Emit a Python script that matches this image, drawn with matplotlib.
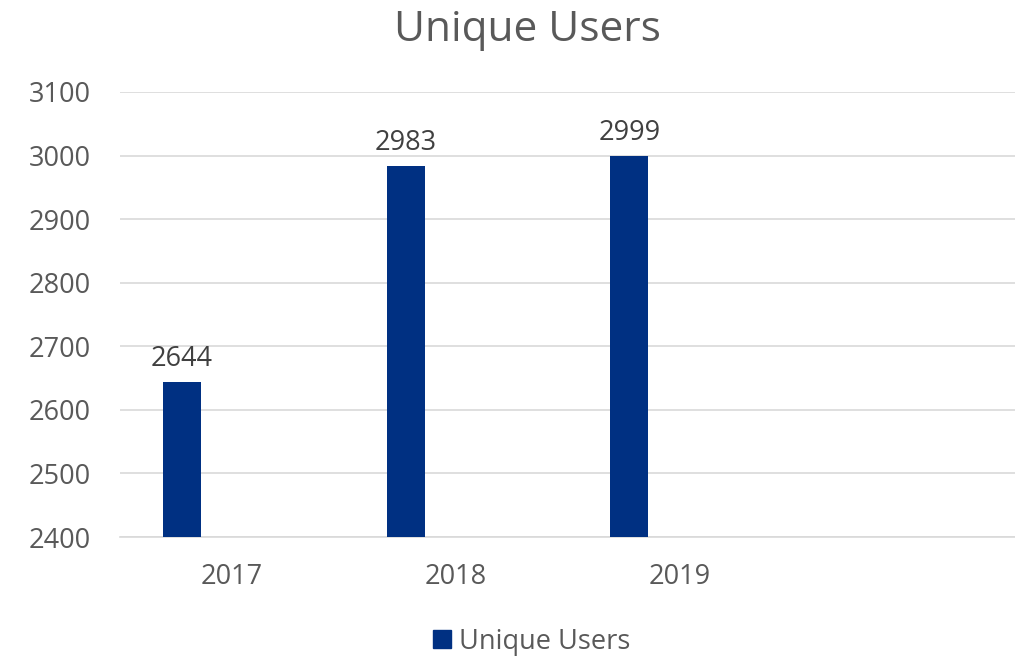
import matplotlib.pyplot as plt
import numpy as np

# data
years = ['2017', '2018', '2019', '']
users = [2644, 2983, 2999, None]
yticks = [2400, 2500, 2600, 2700, 2800, 2900, 3000, 3100]

plt.rcParams['font.family'] = ['Open Sans', 'DejaVu Sans']
grey = '#595959'
bar_color = '#003082'

fig = plt.figure(figsize=(10.15, 6.56), dpi=100)
ax = fig.add_axes([0.1182, 0.1814, 0.8818, 0.6784])

x = np.arange(len(years))
idx = [i for i, v in enumerate(users) if v is not None]
vals = [users[i] for i in idx]
bars = ax.bar(x[idx] - 0.223, vals, width=0.17, color=bar_color, zorder=3)
for b, v in zip(bars, vals):
    ax.text(b.get_x() + b.get_width() / 2, v + 14, str(v), ha='center', va='bottom',
            fontsize=19.5, color='#404040')

ax.set_xlim(-0.5, len(years) - 0.5)
ax.set_ylim(2400, 3100)
ax.set_yticks(yticks)
ax.set_xticks(x)
ax.set_xticklabels(years)
ax.tick_params(axis='both', length=0, labelsize=19.5, labelcolor=grey)
ax.tick_params(axis='y', pad=21)
ax.tick_params(axis='x', pad=19)
ax.grid(axis='y', color='#d9d9d9', linewidth=1.2, zorder=0)
for s in ['top', 'right', 'left']:
    ax.spines[s].set_visible(False)
ax.spines['bottom'].set_color('#d9d9d9')
ax.spines['bottom'].set_linewidth(1.2)

fig.text(0.52, 0.955, 'Unique Users', ha='center', va='center', fontsize=30.5, color=grey)

handle = plt.Rectangle((0, 0), 1, 1, color=bar_color)
fig.legend([handle], ['Unique Users'], loc='center', bbox_to_anchor=(0.524, 0.022),
           frameon=False, fontsize=19.5, labelcolor=grey, handlelength=0.65,
           handleheight=0.65, handletextpad=0.3)

fig.savefig('out.png', dpi=100)
